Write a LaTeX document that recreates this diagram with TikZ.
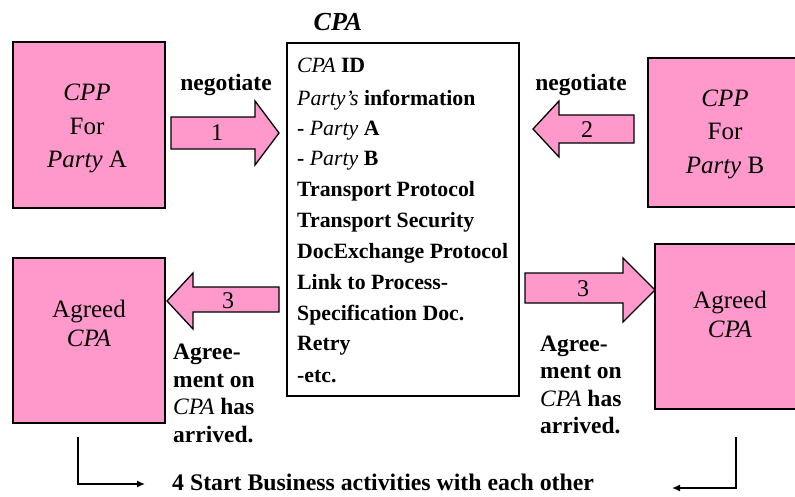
\documentclass[tikz,border=0pt]{standalone}
\usepackage{fontspec}
\setmainfont{Liberation Serif}
\usetikzlibrary{arrows.meta}
\definecolor{pinkfill}{HTML}{FF99CC}
\newcommand{\ipart}[1]{{\mdseries\itshape #1}}
\begin{document}
\begin{tikzpicture}[x=1pt,y=-1pt,
  pinkbox/.style={draw=black, fill=pinkfill, line width=1.3pt, inner sep=0pt},
  whitebox/.style={draw=black, fill=white, line width=1.3pt, inner sep=0pt},
  boxtext/.style={font=\fontsize{25}{33.5}\selectfont, align=center, inner sep=0pt},
  agrtext/.style={font=\fontsize{25}{29}\selectfont, align=center, inner sep=0pt},
  blockarrow/.style={draw=black, fill=pinkfill, line width=1.3pt, line join=miter},
  numtext/.style={font=\fontsize{24}{27}\selectfont, inner sep=0pt},
  boldtext/.style={font=\fontsize{23.5}{27}\selectfont\bfseries, inner sep=0pt},
  notetext/.style={font=\fontsize{23.5}{27.5}\selectfont\bfseries, align=left, inner sep=0pt, anchor=west},
  listtext/.style={font=\fontsize{21.8}{31}\selectfont\bfseries, inner sep=0pt, anchor=base west},
  conn/.style={line width=1.5pt, -{Latex[length=8pt,width=7pt]}}
]
\useasboundingbox (0,0) rectangle (795,496);
\fill[white] (0,0) rectangle (795,496);

% boxes
\node[pinkbox, minimum width=152pt, minimum height=166pt] (cppA) at (89,125) {};
\node[pinkbox, minimum width=154pt, minimum height=149pt] (cppB) at (725,132.5) {};
\node[pinkbox, minimum width=152pt, minimum height=165pt] (agrA) at (89,340.5) {};
\node[pinkbox, minimum width=150pt, minimum height=165pt] (agrB) at (730,326.5) {};
\node[whitebox, minimum width=232pt, minimum height=353pt] (cpa) at (403,219.5) {};

% box texts
\node[boxtext] (cppAt) at (87,128.5) {\textit{CPP}\\For\\\textit{Party} A};
\node[boxtext] (cppBt) at (725,134) {\textit{CPP}\\For\\\textit{Party} B};
\node[agrtext] (agrAt) at (89,323) {Agreed\\\textit{CPA}};
\node[agrtext] (agrBt) at (730,314) {Agreed\\\textit{CPA}};

% CPA title and list
\node[font=\fontsize{26}{30}\selectfont\bfseries\itshape, inner sep=0pt] (title) at (338,22) {CPA};
\node[listtext] (l1) at (297,72) {\ipart{CPA} ID};
\node[listtext] (l2) at (297,105) {\ipart{Party's} information};
\node[listtext] (l3) at (297,135) {- \ipart{Party} A};
\node[listtext] (l4) at (297,165) {- \ipart{Party} B};
\node[listtext] (l5) at (297,196) {Transport Protocol};
\node[listtext] (l6) at (297,227) {Transport Security};
\node[listtext] (l7) at (297,258) {DocExchange Protocol};
\node[listtext] (l8) at (297,289) {Link to Process-};
\node[listtext] (l9) at (297,320) {Specification Doc.};
\node[listtext] (l10) at (297,350) {Retry};
\node[listtext] (l11) at (297,382) {-etc.};

% block arrows
\draw[blockarrow] (171,117) -- (255,117) -- (255,101) -- (279,133) -- (255,165) -- (255,149) -- (171,149) -- cycle;
\draw[blockarrow] (634,115) -- (559,115) -- (559,101) -- (533,129) -- (559,157) -- (559,143) -- (634,143) -- cycle;
\draw[blockarrow] (279,287) -- (193,287) -- (193,273) -- (167,301) -- (193,329) -- (193,312) -- (279,312) -- cycle;
\draw[blockarrow] (525,273) -- (623,273) -- (623,258) -- (655,290) -- (623,322) -- (623,303) -- (525,303) -- cycle;

\node[numtext] (n1) at (217,133) {1};
\node[numtext] (n2) at (587,130) {2};
\node[numtext] (n3a) at (228,301) {3};
\node[numtext] (n3b) at (583,289) {3};

\node[boldtext] (neg1) at (226,85) {negotiate};
\node[boldtext] (neg2) at (581,85) {negotiate};

% notes
\node[notetext] (noteA) at (173,393.5) {Agree-\\ment on\\\ipart{CPA} has\\arrived.};
\node[notetext] (noteB) at (540,385) {Agree-\\ment on\\\ipart{CPA} has\\arrived.};

% bottom
\node[font=\fontsize{23.8}{27}\selectfont\bfseries, inner sep=0pt, anchor=west] (start) at (172,482) {4 Start Business activities with each other};
\coordinate (la) at (78,437);
\coordinate (lb) at (145,484);
\coordinate (ra) at (736,437);
\coordinate (rb) at (672,488);
\draw[conn] (la) |- (lb);
\draw[conn] (ra) |- (rb);
\end{tikzpicture}
\end{document}
